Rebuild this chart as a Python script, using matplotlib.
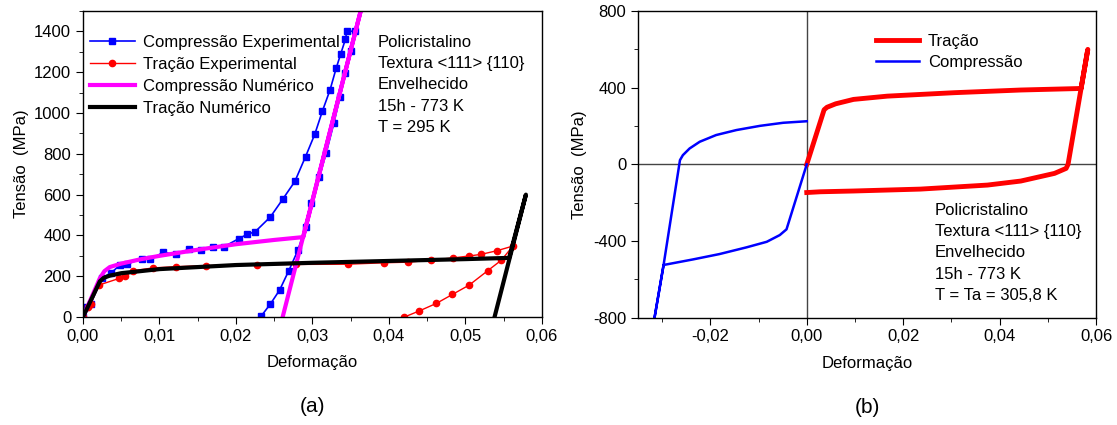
import matplotlib.pyplot as plt
from matplotlib.ticker import MultipleLocator, FuncFormatter

plt.rcParams['font.family'] = ['Liberation Sans', 'DejaVu Sans']
plt.rcParams['axes.unicode_minus'] = False

# (a) compressao experimental
comp_exp_x = [0.0, 0.00035, 0.001, 0.0025, 0.0037, 0.0048, 0.0058, 0.0077, 0.0088, 0.0105,
              0.0121, 0.0139, 0.0154, 0.0170, 0.0184, 0.0204, 0.0215, 0.0225, 0.0245, 0.0261,
              0.0277, 0.0291, 0.0303, 0.0313, 0.0323, 0.0331, 0.0337, 0.0343, 0.0345, 0.0355,
              0.0350, 0.0343, 0.0336, 0.0328, 0.0318, 0.0309, 0.0298, 0.0291, 0.0281, 0.0269,
              0.0257, 0.0245, 0.0233]
comp_exp_y = [0, 47, 64, 192, 217, 254, 260, 287, 283, 317,
              307, 333, 328, 344, 344, 385, 406, 418, 491, 577,
              665, 787, 896, 1010, 1114, 1220, 1291, 1361, 1401, 1401,
              1302, 1196, 1078, 951, 804, 687, 557, 442, 328, 227,
              132, 64, 5]

# (a) tracao experimental
trac_exp_x = [0.0, 0.0006, 0.001, 0.0021, 0.0047, 0.0055, 0.0065, 0.0092, 0.0122, 0.0161,
              0.0227, 0.0278, 0.0346, 0.0393, 0.0425, 0.0455, 0.0484, 0.0504, 0.0520, 0.0541,
              0.0562, 0.0547, 0.0529, 0.0505, 0.0483, 0.0462, 0.0439, 0.0420]
trac_exp_y = [0, 50, 65, 157, 189, 199, 227, 241, 247, 252,
              257, 258, 259, 266, 269, 279, 290, 299, 307, 325,
              348, 279, 227, 157, 111, 67, 29, 0]

# (a) compressao numerico
comp_num_x = [0.0, 0.0022, 0.0028, 0.0035, 0.005, 0.0075, 0.01, 0.015, 0.02, 0.025, 0.0288, 0.0363, 0.0261]
comp_num_y = [0, 190, 225, 245, 262, 283, 300, 330, 357, 378, 392, 1500, 0]

# (a) tracao numerico
trac_num_x = [0.0, 0.0022, 0.0027, 0.0035, 0.005, 0.01, 0.02, 0.03, 0.04, 0.05, 0.0557, 0.0579, 0.0538]
trac_num_y = [0, 175, 192, 203, 215, 235, 255, 266, 275, 284, 290, 600, 0]

# (b) tracao
trac_b_x = [0.0, 0.0036, 0.0042, 0.0050, 0.0060, 0.0097, 0.0167, 0.0306, 0.0444, 0.0569, 0.0583, 0.0542,
            0.0538, 0.0514, 0.0444, 0.0375, 0.0236, 0.0097, 0.0028, 0.0]
trac_b_y = [0, 285, 298, 306, 316, 339, 356, 374, 388, 396, 600, 0,
            -21, -47, -87, -108, -129, -139, -143, -147]

# (b) compressao
comp_b_x = [0.0, -0.0042, -0.0056, -0.0083, -0.0125, -0.0181, -0.0236, -0.0297, -0.0316,
            -0.0297, -0.0263, -0.0257, -0.0243, -0.0222, -0.0188, -0.0146, -0.0097, -0.0049, 0.0]
comp_b_y = [0, -339, -369, -404, -433, -468, -496, -525, -803,
            -525, 22, 48, 83, 118, 153, 179, 201, 217, 225]

info_a = "Policristalino\nTextura <111> {110}\nEnvelhecido\n15h - 773 K\nT = 295 K"
info_b = "Policristalino\nTextura <111> {110}\nEnvelhecido\n15h - 773 K\nT = Ta = 305,8 K"

fs = 12
comma = FuncFormatter(lambda v, p: ("%.2f" % v).replace(".", ","))

fig = plt.figure(figsize=(11.17, 4.25), dpi=100)
ax1 = fig.add_axes([0.0743, 0.254, 0.4109, 0.72])
ax2 = fig.add_axes([0.5712, 0.2525, 0.41, 0.7215])

ax1.plot(comp_exp_x, comp_exp_y, color='#0000ff', lw=1.2, marker='s', ms=4.5, label='Compressão Experimental')
ax1.plot(trac_exp_x, trac_exp_y, color='#ff0000', lw=1.0, marker='o', ms=4.5, label='Tração Experimental')
ax1.plot(comp_num_x, comp_num_y, color='#ff00ff', lw=3, label='Compressão Numérico')
ax1.plot(trac_num_x, trac_num_y, color='black', lw=3, label='Tração Numérico')
ax1.set_xlim(0, 0.06)
ax1.set_ylim(0, 1500)
ax1.xaxis.set_major_locator(MultipleLocator(0.01))
ax1.xaxis.set_minor_locator(MultipleLocator(0.005))
ax1.yaxis.set_major_locator(MultipleLocator(200))
ax1.yaxis.set_minor_locator(MultipleLocator(100))
ax1.xaxis.set_major_formatter(comma)
ax1.set_xlabel("Deformação", fontsize=fs, labelpad=8)
ax1.set_ylabel("Tensão  (MPa)", fontsize=fs, labelpad=4)
ax1.legend(loc='upper left', bbox_to_anchor=(-0.011, 0.96), fontsize=fs, frameon=False, handlelength=2.7,
           borderaxespad=0.3, labelspacing=0.42, handletextpad=0.5)
ax1.text(0.0385, 1385, info_a, fontsize=fs, va='top', linespacing=1.53)
ax1.text(0.5, -0.31, "(a)", transform=ax1.transAxes, ha='center', fontsize=15)

ax2.axhline(0, color='#444444', lw=1)
ax2.axvline(0, color='#444444', lw=1)
ax2.plot(trac_b_x, trac_b_y, color='#ff0000', lw=3.5, label='Tração')
ax2.plot(comp_b_x, comp_b_y, color='#0000ff', lw=1.8, label='Compressão')
ax2.set_xlim(-0.035, 0.06)
ax2.set_ylim(-800, 800)
ax2.xaxis.set_major_locator(MultipleLocator(0.02))
ax2.xaxis.set_minor_locator(MultipleLocator(0.01))
ax2.yaxis.set_major_locator(MultipleLocator(400))
ax2.yaxis.set_minor_locator(MultipleLocator(200))
ax2.xaxis.set_major_formatter(comma)
ax2.set_xlabel("Deformação", fontsize=fs, labelpad=8)
ax2.set_ylabel("Tensão  (MPa)", fontsize=fs, labelpad=4)
ax2.legend(loc='upper left', bbox_to_anchor=(0.487, 0.975), fontsize=fs, frameon=False,
           handlelength=2.6, labelspacing=0.35, handletextpad=0.5)
ax2.text(0.0265, -200, info_b, fontsize=fs, va='top', linespacing=1.53)
ax2.text(0.5, -0.31, "(b)", transform=ax2.transAxes, ha='center', fontsize=15)

for ax in (ax1, ax2):
    ax.tick_params(which='both', direction='out', labelsize=fs, top=False, right=False)
    ax.tick_params(which='major', length=5)
    ax.tick_params(which='minor', length=3)
    for s in ax.spines.values():
        s.set_linewidth(1.0)

fig.savefig("out.png", dpi=100)
